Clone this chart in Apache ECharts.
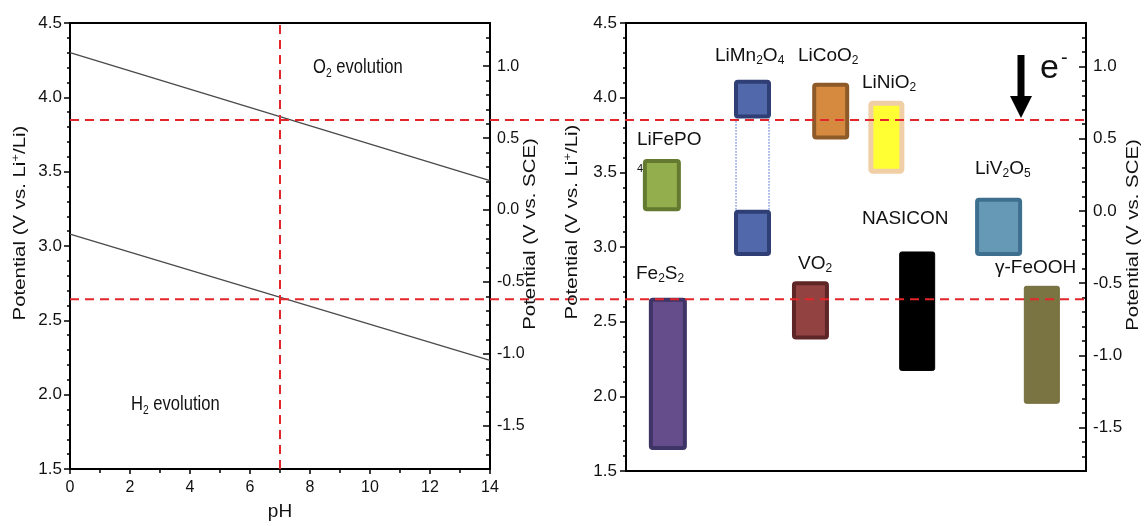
<!DOCTYPE html>
<html>
<head>
<meta charset="utf-8">
<script src="https://cdn.jsdelivr.net/npm/echarts@6.0.0/dist/echarts.min.js"></script>
<style>
  html, body { margin: 0; padding: 0; background: #fff; }
  #chart { width: 1144px; height: 526px; }
</style>
</head>
<body>
<div id="chart"></div>
<script>
// ---- left panel: stability window of water vs pH (V vs Li+/Li) ----
var pHRange = [0, 14];
var o2Line = [4.30, 3.44];       // O2 evolution potential at pH 0 and pH 14
var h2Line = [3.08, 2.23];       // H2 evolution potential at pH 0 and pH 14
var neutralPH = 7;
var o2Neutral = 3.85;            // dashed red guides at pH 7
var h2Neutral = 2.65;

// ---- right panel: redox windows of electrode materials (V vs Li+/Li) ----
var materials = ["LiFePO4", "Fe2S2", "LiMn2O4", "LiMn2O4", "VO2", "LiCoO2", "LiNiO2", "NASICON", "LiV2O5", "γ-FeOOH"];
var lowV  = [3.24, 1.64, 3.86, 2.94, 2.38, 3.72, 3.49, 2.17, 2.94, 1.95];
var highV = [3.59, 2.66, 4.12, 3.25, 2.77, 4.10, 3.98, 2.97, 3.33, 2.74];
var slot  = [0.78, 0.91, 2.75, 2.75, 4.01, 4.45, 5.66, 6.33, 8.10, 9.04];

// axis ticks
var liTicks = [1.5, 2.0, 2.5, 3.0, 3.5, 4.0, 4.5];
var sceTicks = [-1.5, -1.0, -0.5, 0.0, 0.5, 1.0];
var sceMin = -1.8, sceMax = 1.3;

var sceMinor = [];
for (var k = -18; k <= 13; k++) sceMinor.push(k / 10);

// box looks (fill, border, width in px, border width)
var boxLook = [
  { fill: "#93ae4c", stroke: "#637a30", w: 38, lw: 4 },
  { fill: "#654d8c", stroke: "#3f3466", w: 38, lw: 4 },
  { fill: "#5169aa", stroke: "#2f3f76", w: 37, lw: 4 },
  { fill: "#5169aa", stroke: "#2f3f76", w: 37, lw: 4 },
  { fill: "#934242", stroke: "#5e2626", w: 37, lw: 4 },
  { fill: "#d68a40", stroke: "#8d5a28", w: 37, lw: 4 },
  { fill: "#ffff33", stroke: "#f1cfa6", w: 36, lw: 5 },
  { fill: "#000000", stroke: "#000000", w: 36, lw: 1 },
  { fill: "#6699b6", stroke: "#3f6f8f", w: 47, lw: 4 },
  { fill: "#7a7442", stroke: "#736d3d", w: 36, lw: 1 }
];

var sans = "'Liberation Sans', Arial, sans-serif";
var black = "#111";

var myChart = echarts.init(document.getElementById("chart"));

function lineAxis(extra) {
  var base = {
    axisLine: { show: true, onZero: false, lineStyle: { color: "#000", width: 2 } },
    splitLine: { show: false }
  };
  for (var key in extra) base[key] = extra[key];
  return base;
}

function renderBox(params, api) {
  var i = params.dataIndex;
  var look = boxLook[i];
  var top = api.coord([api.value(0), api.value(2)]);
  var bot = api.coord([api.value(0), api.value(1)]);
  var h = look.lw / 2;
  return {
    type: "rect",
    shape: { x: top[0] - look.w / 2 + h, y: top[1] + h, width: look.w - look.lw, height: bot[1] - top[1] - look.lw, r: 2 },
    style: { fill: look.fill, stroke: look.stroke, lineWidth: look.lw }
  };
}

// dotted guide joining the two LiMn2O4 plateaus
function renderLink(params, api) {
  var a = api.coord([api.value(0), api.value(1)]);
  var b = api.coord([api.value(0), api.value(2)]);
  var half = boxLook[2].w / 2 - 2;
  var st = { stroke: "#3d5fd0", lineWidth: 1, lineDash: [1.5, 1.5] };
  return {
    type: "group",
    children: [
      { type: "line", shape: { x1: a[0] - half, y1: a[1], x2: b[0] - half, y2: b[1] }, style: st },
      { type: "line", shape: { x1: a[0] + half, y1: a[1], x2: b[0] + half, y2: b[1] }, style: st }
    ]
  };
}

var boxData = materials.map(function (name, i) {
  return { name: name, value: [slot[i], lowV[i], highV[i]] };
});

var redLine = { color: "#e3262b", width: 2, type: [9, 6] };

function label(text, x, y, size) {
  return {
    type: "text", x: x, y: y, z: 100,
    style: {
      text: text, fill: black, font: (size || 19) + "px " + sans,
      verticalAlign: "top",
      rich: {
        s: { fontSize: 12, fontFamily: sans, fill: black, padding: [11, 0, 0, 0] }
      }
    }
  };
}

// the left panel lettering is horizontally condensed in the original
function narrowLabel(text, x, y) {
  return {
    type: "text", x: x, y: y, z: 100, scaleX: 0.79,
    style: {
      text: text, fill: black, font: "21px " + sans, verticalAlign: "top",
      rich: { s: { fontSize: 13, fontFamily: sans, fill: black, padding: [12, 0, 0, 0] } }
    }
  };
}

function axisTitle(text, cx, cy) {
  return {
    type: "text", x: cx, y: cy, rotation: Math.PI / 2, scaleX: 1.2, z: 100,
    style: {
      text: text, fill: black, font: "17px " + sans, align: "center", verticalAlign: "middle",
      rich: { p: { fontSize: 11, fontFamily: sans, fill: black, padding: [0, 0, 9, 0] } }
    }
  };
}

myChart.setOption({
  animation: false,
  backgroundColor: "#fff",
  grid: [
    { left: 70, top: 23, width: 420, height: 448 },
    { left: 626, top: 23, width: 460, height: 448 },
    { left: 70, top: 23, width: 1016, height: 448 }
  ],
  xAxis: [
    lineAxis({
      gridIndex: 0, type: "value", min: 0, max: 14, interval: 2, position: "bottom",
      name: "pH", nameLocation: "middle", nameGap: 33,
      nameTextStyle: { fontSize: 19, fontFamily: sans, color: black },
      axisTick: { show: true, length: 5, lineStyle: { color: "#000", width: 1.5 } },
      minorTick: { show: true, splitNumber: 2, length: 4, lineStyle: { color: "#000", width: 1.5 } },
      axisLabel: { fontSize: 16, fontFamily: sans, color: black, margin: 11 }
    }),
    lineAxis({ gridIndex: 0, type: "value", min: 0, max: 14, position: "top", axisTick: { show: false }, axisLabel: { show: false } }),
    lineAxis({ gridIndex: 1, type: "value", min: 0, max: 10, position: "bottom", axisTick: { show: false }, axisLabel: { show: false } }),
    lineAxis({ gridIndex: 1, type: "value", min: 0, max: 10, position: "top", axisTick: { show: false }, axisLabel: { show: false } }),
    { gridIndex: 2, type: "value", min: 0, max: 1, show: false }
  ],
  yAxis: [
    lineAxis({
      gridIndex: 0, type: "value", min: 1.5, max: 4.5, interval: 0.5, position: "left",
      axisTick: { show: true, length: 6, lineStyle: { color: "#000", width: 1.5 } },
      minorTick: { show: true, splitNumber: 5, length: 3, lineStyle: { color: "#000", width: 1.5 } },
      axisLabel: { fontSize: 17, fontFamily: sans, color: black, margin: 8, formatter: function (v) { return v.toFixed(1); } }
    }),
    lineAxis({
      gridIndex: 0, type: "value", min: sceMin, max: sceMax, position: "right",
      axisTick: { show: true, inside: true, length: 7, customValues: sceTicks, lineStyle: { color: "#000", width: 1.5 } },
      axisLabel: { customValues: sceTicks, fontSize: 16, fontFamily: sans, color: black, margin: 7, formatter: function (v) { return v.toFixed(1); } }
    }),
    lineAxis({
      gridIndex: 0, type: "value", min: sceMin, max: sceMax, position: "right",
      axisTick: { show: true, inside: true, length: 4, customValues: sceMinor, lineStyle: { color: "#000", width: 1.5 } },
      axisLabel: { show: false }
    }),
    lineAxis({
      gridIndex: 1, type: "value", min: 1.5, max: 4.5, interval: 0.5, position: "left",
      axisTick: { show: true, length: 6, lineStyle: { color: "#000", width: 1.5 } },
      minorTick: { show: true, splitNumber: 5, length: 3, lineStyle: { color: "#000", width: 1.5 } },
      axisLabel: { fontSize: 17, fontFamily: sans, color: black, margin: 9, formatter: function (v) { return v.toFixed(1); } }
    }),
    lineAxis({
      gridIndex: 1, type: "value", min: sceMin, max: sceMax, position: "right",
      axisTick: { show: true, inside: true, length: 7, customValues: sceTicks, lineStyle: { color: "#000", width: 1.5 } },
      axisLabel: { customValues: sceTicks, fontSize: 17, fontFamily: sans, color: black, margin: 7, formatter: function (v) { return v.toFixed(1); } }
    }),
    lineAxis({
      gridIndex: 1, type: "value", min: sceMin, max: sceMax, position: "right",
      axisTick: { show: true, inside: true, length: 4, customValues: sceMinor, lineStyle: { color: "#000", width: 1.5 } },
      axisLabel: { show: false }
    }),
    { gridIndex: 2, type: "value", min: 1.5, max: 4.5, show: false }
  ],
  series: [
    {
      name: "O2", type: "line", xAxisIndex: 0, yAxisIndex: 0, symbol: "none", z: 3,
      lineStyle: { color: "#4a4a4a", width: 1.3 },
      data: [[pHRange[0], o2Line[0]], [pHRange[1], o2Line[1]]]
    },
    {
      name: "H2", type: "line", xAxisIndex: 0, yAxisIndex: 0, symbol: "none", z: 3,
      lineStyle: { color: "#4a4a4a", width: 1.3 },
      data: [[pHRange[0], h2Line[0]], [pHRange[1], h2Line[1]]]
    },
    {
      name: "pH7", type: "line", xAxisIndex: 0, yAxisIndex: 0, symbol: "none", z: 6,
      lineStyle: redLine,
      data: [[neutralPH, liTicks[0]], [neutralPH, liTicks[liTicks.length - 1]]]
    },
    {
      name: "boxes", type: "custom", xAxisIndex: 2, yAxisIndex: 3, z: 4,
      renderItem: renderBox, data: boxData
    },
    {
      name: "link", type: "custom", xAxisIndex: 2, yAxisIndex: 3, z: 4,
      renderItem: renderLink, data: [[slot[2], highV[3], lowV[2]]]
    },
    {
      name: "O2 level", type: "line", xAxisIndex: 4, yAxisIndex: 6, symbol: "none", z: 10,
      lineStyle: redLine, data: [[0, o2Neutral], [1, o2Neutral]]
    },
    {
      name: "H2 level", type: "line", xAxisIndex: 4, yAxisIndex: 6, symbol: "none", z: 10,
      lineStyle: redLine, data: [[0, h2Neutral], [1, h2Neutral]]
    }
  ],
  graphic: [
    // left panel annotations
    narrowLabel("O{s|2} evolution", 313, 55),
    narrowLabel("H{s|2} evolution", 131, 392),
    axisTitle("Potential (V vs. Li{p|+}/Li)", 20, 223),
    axisTitle("Potential (V vs. SCE)", 530, 234),
    // right panel annotations
    axisTitle("Potential (V vs. Li{p|+}/Li)", 572, 222),
    axisTitle("Potential (V vs. SCE)", 1133, 235),
    label("LiFePO", 637, 130),
    label("4", 637, 163, 11),
    label("LiMn{s|2}O{s|4}", 715, 44),
    label("LiCoO{s|2}", 798, 44),
    label("LiNiO{s|2}", 862, 71),
    label("LiV{s|2}O{s|5}", 975, 157),
    label("NASICON", 862, 209),
    label("Fe{s|2}S{s|2}", 636, 262),
    label("VO{s|2}", 798, 252),
    label("γ-FeOOH", 995, 258),
    // electron arrow
    { type: "rect", z: 100, shape: { x: 1017.5, y: 55, width: 7, height: 43 }, style: { fill: "#000" } },
    { type: "polygon", z: 100, shape: { points: [[1010, 96], [1032, 96], [1021, 118]] }, style: { fill: "#000" } },
    {
      type: "text", x: 1040, y: 48, z: 100,
      style: {
        text: "e{m|-}", fill: black, font: "34px " + sans, verticalAlign: "top",
        rich: { m: { fontSize: 20, fontFamily: sans, fill: black, padding: [0, 0, 22, 2] } }
      }
    }
  ]
});
</script>
</body>
</html>
